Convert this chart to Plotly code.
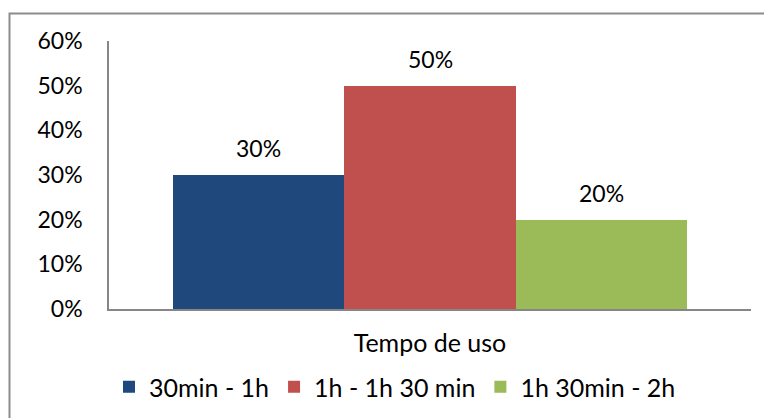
import plotly.graph_objects as go

series = ["30min - 1h", "1h - 1h 30 min", "1h 30min - 2h"]
values = [0.30, 0.50, 0.20]
colors = ["#1F497D", "#C0504D", "#9BBB59"]
axis_title = "Tempo de uso"
y_ticks = [0, 0.1, 0.2, 0.3, 0.4, 0.5, 0.6]

FONT = "Lato"
FS = 23
FS_BIG = 25

fig = go.Figure()
for name, v, c in zip(series, values, colors):
    fig.add_trace(go.Bar(x=[name], y=[v], name=name, marker=dict(color=c, line=dict(width=0)),
                         width=1.0))
    fig.add_annotation(x=name, y=v, text=f"{round(v*100)}%", showarrow=False,
                       yanchor="bottom", yshift=11, font=dict(family=FONT, size=FS, color="#000000"))

L, R, T, B = 109, 13, 41, 109
W, H = 764, 418
pw = W - L - R
ph = H - T - B

# chart frame (decoration)
fig.add_shape(type="rect", xref="paper", yref="paper",
              x0=(9.5 - L) / pw, x1=(W + 10 - L) / pw,
              y0=(H - B - (H + 10)) / ph, y1=(H - B - 13.5) / ph,
              line=dict(color="#8C8C8C", width=2), fillcolor="rgba(0,0,0,0)", layer="below")

fig.update_layout(
    width=W, height=H,
    margin=dict(l=L, r=R, t=T, b=B, autoexpand=False),
    paper_bgcolor="white", plot_bgcolor="white",
    barmode="overlay", bargap=0,
    font=dict(family=FONT, size=FS, color="#000000"),
    showlegend=True,
    legend=dict(orientation="h", x=(109 - L) / pw, xanchor="left",
                y=(H - B - 387) / ph, yanchor="middle",
                font=dict(family=FONT, size=FS_BIG, color="#000000"),
                itemwidth=30, tracegroupgap=0, traceorder="normal"),
    xaxis=dict(range=[-0.874, 2.874], showticklabels=False, ticks="", automargin=False,
               showline=True, linecolor="#868686", linewidth=1.5, showgrid=False, zeroline=False,
               title=dict(text=axis_title, standoff=25, font=dict(family=FONT, size=FS_BIG))),
    yaxis=dict(range=[0, 0.6], tickvals=y_ticks, tickformat=".0%", ticks="", automargin=False,
               showline=True, linecolor="#868686", linewidth=1.5, showgrid=False, zeroline=False,
               ticklabelstandoff=20),
)

fig.write_html("out.html")
